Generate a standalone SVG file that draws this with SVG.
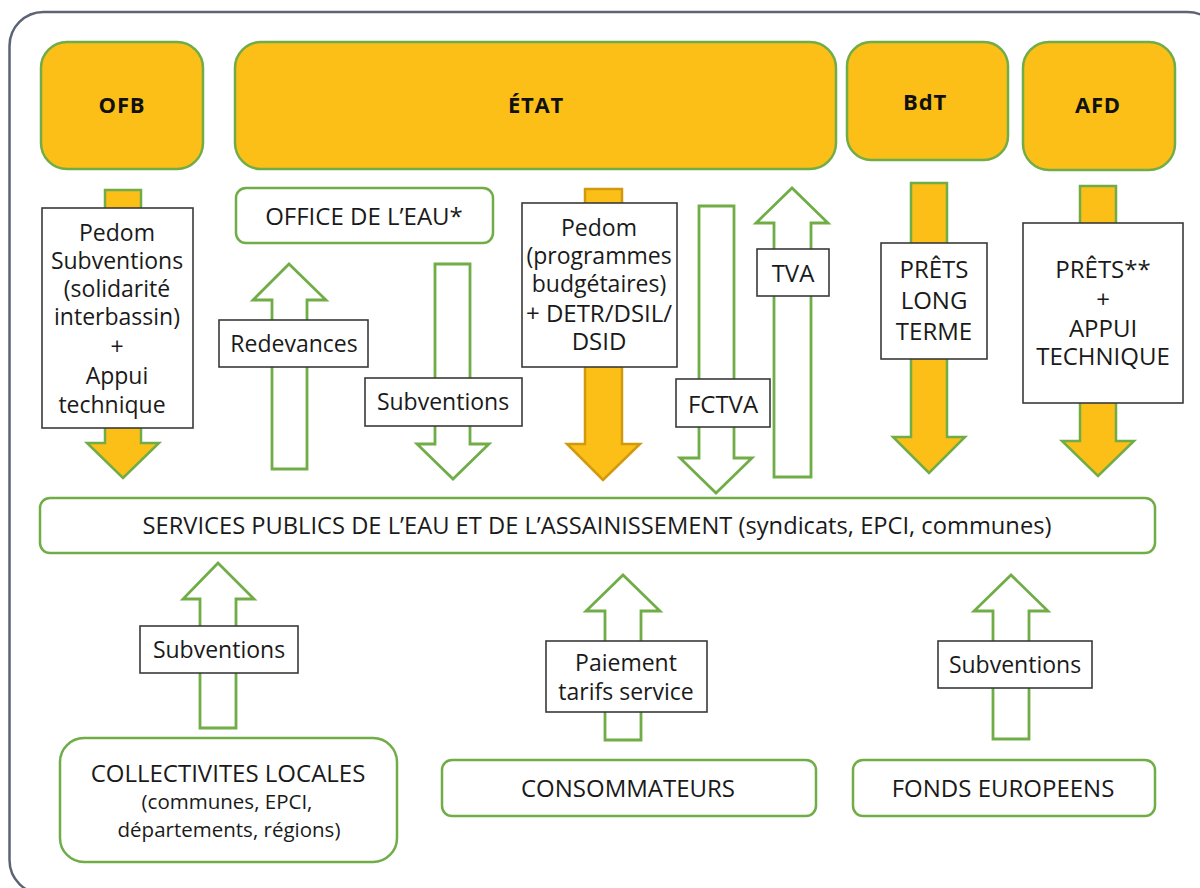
<svg xmlns="http://www.w3.org/2000/svg" width="1200" height="888" viewBox="0 0 1200 888">
<style>
  .frame{fill:#fff;stroke:#5b6374;stroke-width:2.5}
  .org{fill:#fbbf18;stroke:#70ad47;stroke-width:2.5}
  .ent{fill:#fff;stroke:#70ad47;stroke-width:2.5}
  .lbl{fill:#fff;stroke:#3a3a3a;stroke-width:1.6}
  .ya{fill:#fbbf18;stroke:#70ad47;stroke-width:2.5;stroke-linejoin:miter}
  .yd{fill:#fbbf18;stroke:#d19a0c;stroke-width:2.5;stroke-linejoin:miter}
  .wa{fill:#fff;stroke:#70ad47;stroke-width:2.8;stroke-linejoin:miter}
  text{font-family:"Open Sans","Noto Sans","Liberation Sans",sans-serif;fill:#1a1a1a;text-anchor:middle;dominant-baseline:central}
  .b{font-weight:700;font-size:22px;letter-spacing:0.8px;fill:#111}
  .t{font-size:23px}
  .c{font-size:24px}
  .s{font-size:20.5px}
</style>
<rect class="frame" x="9.5" y="12" width="1212" height="882" rx="34"/>

<g id="connectors">
  <polygon id="a-ofb" class="ya" points="105,190 141,190 141,443 159,443 123,478 87,443 105,443"/>
  <polygon id="a-redevances" class="wa" points="272,469 307,469 307,300 326,300 289,264 253,300 272,300"/>
  <polygon id="a-office-sub" class="wa" points="435,264 470,264 470,444 489,444 453,479 417,444 435,444"/>
  <polygon id="a-etat" class="yd" points="585,189 622,189 622,444 640,444 603,480 567,444 585,444"/>
  <polygon id="a-fctva" class="wa" points="699,206 734,206 734,458 752,458 716,493 680,458 699,458"/>
  <polygon id="a-tva" class="wa" points="774,477 811,477 811,223 828,223 792,188 756,223 774,223"/>
  <polygon id="a-bdt" class="ya" points="911,183 947,183 947,437 965,437 929,473 893,437 911,437"/>
  <polygon id="a-afd" class="ya" points="1080,186 1116,186 1116,441 1134,441 1098,476 1062,441 1080,441"/>
  <polygon id="a-coll" class="wa" points="200,728 236,728 236,599 254,599 218,563 183,599 200,599"/>
  <polygon id="a-conso" class="wa" points="605,740 641,740 641,611 660,611 623,575 586,611 605,611"/>
  <polygon id="a-fonds" class="wa" points="993,739 1029,739 1029,611 1048,611 1011,575 974,611 993,611"/>

  <g id="l-ofb">
    <rect class="lbl" x="42" y="208" width="151" height="220"/>
    <text class="t" x="117" y="232">Pedom</text>
    <text class="t" x="117" y="260">Subventions</text>
    <text class="t" x="117" y="288">(solidarité</text>
    <text class="t" x="117" y="316">interbassin)</text>
    <text class="t" x="117" y="346">+</text>
    <text class="t" x="117" y="375">Appui</text>
    <text class="t" x="112" y="404">technique</text>
  </g>
  <g id="l-redevances">
    <rect class="lbl" x="219" y="320" width="149" height="47"/>
    <text class="t" x="294" y="343">Redevances</text>
  </g>
  <g id="l-office-sub">
    <rect class="lbl" x="365" y="378" width="157" height="48"/>
    <text class="t" x="443" y="401">Subventions</text>
  </g>
  <g id="l-etat">
    <rect class="lbl" x="522" y="203" width="155" height="164"/>
    <text class="t" x="599" y="227">Pedom</text>
    <text class="t" x="599" y="255">(programmes</text>
    <text class="t" x="599" y="283">budgétaires)</text>
    <text class="c" x="599" y="312">+ DETR/DSIL/</text>
    <text class="c" x="599" y="340">DSID</text>
  </g>
  <g id="l-fctva">
    <rect class="lbl" x="676" y="379" width="94" height="48"/>
    <text class="c" x="723" y="403">FCTVA</text>
  </g>
  <g id="l-tva">
    <rect class="lbl" x="757" y="249" width="72" height="47"/>
    <text class="c" x="793" y="272">TVA</text>
  </g>
  <g id="l-bdt">
    <rect class="lbl" x="881" y="243" width="106" height="116"/>
    <text class="c" x="934" y="268">PRÊTS</text>
    <text class="c" x="934" y="299">LONG</text>
    <text class="c" x="934" y="330">TERME</text>
  </g>
  <g id="l-afd">
    <rect class="lbl" x="1023" y="223" width="160" height="180"/>
    <text class="c" x="1103" y="268">PRÊTS**</text>
    <text class="c" x="1103" y="298">+</text>
    <text class="c" x="1103" y="327">APPUI</text>
    <text class="c" x="1103" y="355">TECHNIQUE</text>
  </g>
  <g id="l-coll">
    <rect class="lbl" x="140" y="626" width="158" height="47"/>
    <text class="t" x="219" y="649">Subventions</text>
  </g>
  <g id="l-conso">
    <rect class="lbl" x="546" y="641" width="161" height="71"/>
    <text class="t" x="626" y="662">Paiement</text>
    <text class="t" x="626" y="691">tarifs service</text>
  </g>
  <g id="l-fonds">
    <rect class="lbl" x="938" y="641" width="154" height="47"/>
    <text class="t" x="1015" y="664">Subventions</text>
  </g>
</g>

<g id="ofb">
  <rect class="org" x="41" y="42" width="162" height="127" rx="26"/>
  <text class="b" x="122" y="104">OFB</text>
</g>
<g id="etat">
  <rect class="org" x="235" y="42" width="601" height="127" rx="26"/>
  <text class="b" x="536" y="104">ÉTAT</text>
</g>
<g id="bdt">
  <rect class="org" x="847" y="42" width="161" height="118" rx="24"/>
  <text class="b" x="925" y="101">BdT</text>
</g>
<g id="afd">
  <rect class="org" x="1023" y="42" width="152" height="128" rx="26"/>
  <text class="b" x="1098" y="104">AFD</text>
</g>
<g id="office">
  <rect class="ent" x="236" y="188" width="257" height="55" rx="10"/>
  <text class="c" x="364" y="215">OFFICE DE L’EAU*</text>
</g>
<g id="services">
  <rect class="ent" x="40" y="498" width="1115" height="55" rx="10"/>
  <text class="t" x="597" y="525" style="font-size:23.7px">SERVICES PUBLICS DE L’EAU ET DE L’ASSAINISSEMENT (syndicats, EPCI, communes)</text>
</g>
<g id="collectivites">
  <rect class="ent" x="60" y="738" width="337" height="124" rx="24"/>
  <text class="c" x="228" y="772">COLLECTIVITES LOCALES</text>
  <text class="s" x="227" y="801">(communes, EPCI,</text>
  <text class="s" x="229" y="829">départements, régions)</text>
</g>
<g id="consommateurs">
  <rect class="ent" x="442" y="760" width="374" height="56" rx="10"/>
  <text class="c" x="628" y="787">CONSOMMATEURS</text>
</g>
<g id="fonds">
  <rect class="ent" x="853" y="760" width="302" height="56" rx="10"/>
  <text class="c" x="1003" y="787">FONDS EUROPEENS</text>
</g>
</svg>
